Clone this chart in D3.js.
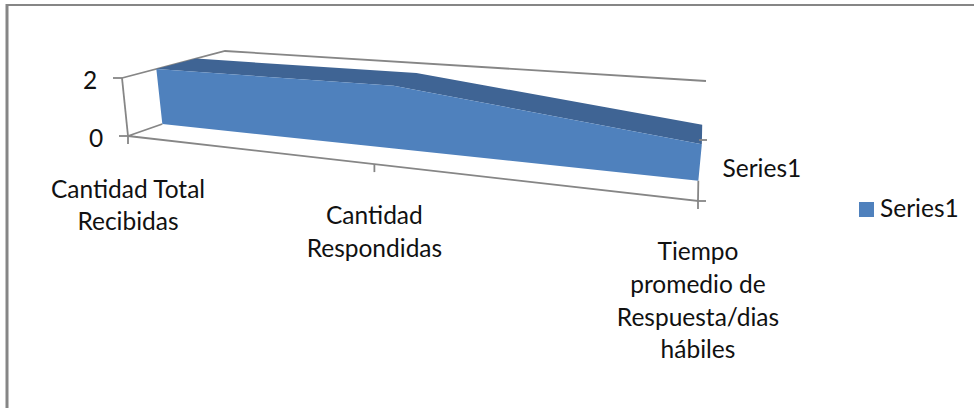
<!DOCTYPE html>
<html>
<head>
<meta charset="utf-8">
<script src="https://cdn.jsdelivr.net/npm/d3@7"></script>
<style>
  html, body { margin: 0; padding: 0; background: #fff; }
  svg { display: block; }
  text { font-family: Lato, "Open Sans", sans-serif; font-size: 24.5px; fill: #111; }
</style>
</head>
<body>
<svg id="chart" width="974" height="408"></svg>
<script>
var categories = [
    ["Cantidad Total", "Recibidas"],
    ["Cantidad", "Respondidas"],
    ["Tiempo", "promedio de", "Respuesta/dias", "hábiles"]
];
var seriesName = "Series1";
var seriesValues = [2, 2, 1];
var valueTicks = [0, 2];

var svg = d3.select("#chart");
var axisColor = "#868686";

// category position along the floor, squeezed a bit to fake the perspective
var catPoint = d3.scalePoint().domain(d3.range(categories.length)).range([0, 1]);
var catWarp = d3.scalePow().exponent(1.21).domain([0, 1]).range([0, 1]);

// floor edges of the box, front and back
var frontX = d3.scaleLinear().domain([0, 1]).range([128, 698]);
var frontY = d3.scaleLinear().domain([0, 1]).range([136, 201]);
var backX = d3.scaleLinear().domain([0, 1]).range([231, 699]);
var backY = d3.scaleLinear().domain([0, 1]).range([100, 140]);
// pixel height and lean of the value axis at the 4 corners
var frontH = d3.scaleLinear().domain([0, 1]).range([58, 80]);
var backH = d3.scaleLinear().domain([0, 1]).range([49, 59]);
var frontLean = d3.scaleLinear().domain([0, 1]).range([-6, 7]);
var backLean = d3.scaleLinear().domain([0, 1]).range([-6, 7]);
var valueY = d3.scaleLinear().domain([0, 2]).range([0, 1]);

// where the area sits in the depth of the box
var frontDepth = 1 / 3, backDepth = 0.72;

function project(t, d, v) {
    var h = valueY(v);
    var x = d3.interpolateNumber(frontX(t), backX(t))(d);
    var y = d3.interpolateNumber(frontY(t), backY(t))(d);
    var height = d3.interpolateNumber(frontH(t), backH(t))(d);
    var lean = d3.interpolateNumber(frontLean(t), backLean(t))(d);
    return [x + lean * h, y - height * h];
}

var line = d3.line();
var seriesT = seriesValues.map(function (v, i) { return catWarp(catPoint(i)); });

function stroke(points, width) {
    svg.append("path")
        .attr("d", line(points))
        .attr("fill", "none")
        .attr("stroke", axisColor)
        .attr("stroke-width", width || 1.8);
}

// chart border, only top and left show in the crop
stroke([[974, 5], [7, 5]], 2);
stroke([[7, 4], [7, 408]], 3);

// back wall top and the axis lines
stroke([project(0, 0, 2), project(0, 1, 2), project(1, 1, 2)]);
stroke([project(0, 0, 2), project(0, 0, 0)]);
stroke([project(0, frontDepth, 0), project(0, 0, 0), project(1, 0, 0), project(1, frontDepth, 0)]);

// value axis ticks and labels
valueTicks.forEach(function (v) {
    var p = project(0, 0, v);
    stroke([[p[0] - 9, p[1]], p]);
    svg.append("text")
        .attr("x", p[0] - 32)
        .attr("y", p[1] + 5)
        .attr("text-anchor", "middle")
        .attr("dominant-baseline", "middle")
        .text(v);
});

// category ticks and labels
var labelTop = [192, 218, 254];
var lineGap = [32, 33, 32.7];
categories.forEach(function (lines, i) {
    var p = project(seriesT[i], 0, 0);
    stroke([p, [p[0], p[1] + 8]]);
    lines.forEach(function (txt, j) {
        svg.append("text")
            .attr("x", p[0])
            .attr("y", labelTop[i] + j * lineGap[i])
            .attr("text-anchor", "middle")
            .attr("dominant-baseline", "middle")
            .text(txt);
    });
});

var depthMid = project(1, 0.5, 0);
svg.append("text")
    .attr("x", depthMid[0] + 24)
    .attr("y", 171)
    .attr("dominant-baseline", "middle")
    .text(seriesName);

// top band of the area, then the front face
var frontTop = seriesT.map(function (t, i) { return project(t, frontDepth, seriesValues[i]); });
var backTop = seriesT.map(function (t, i) { return project(t, backDepth, seriesValues[i]); });
var frontFloor = seriesT.map(function (t) { return project(t, frontDepth, 0); });

svg.append("path")
    .attr("d", line(frontTop.concat(backTop.slice().reverse())) + "Z")
    .attr("fill", "#3f6494");
svg.append("path")
    .attr("d", line(frontTop.concat(frontFloor.slice().reverse())) + "Z")
    .attr("fill", "#4f81bd");

// depth axis ticks sit on top of the area
[0, 1].forEach(function (d) {
    var p = project(1, d, 0);
    stroke([p, [p[0] + 8, p[1]]]);
});

// legend
svg.append("rect")
    .attr("x", 859)
    .attr("y", 202)
    .attr("width", 15)
    .attr("height", 15)
    .attr("fill", "#4f81bd");
svg.append("text")
    .attr("x", 880)
    .attr("y", 211)
    .attr("dominant-baseline", "middle")
    .text(seriesName);
</script>
</body>
</html>
